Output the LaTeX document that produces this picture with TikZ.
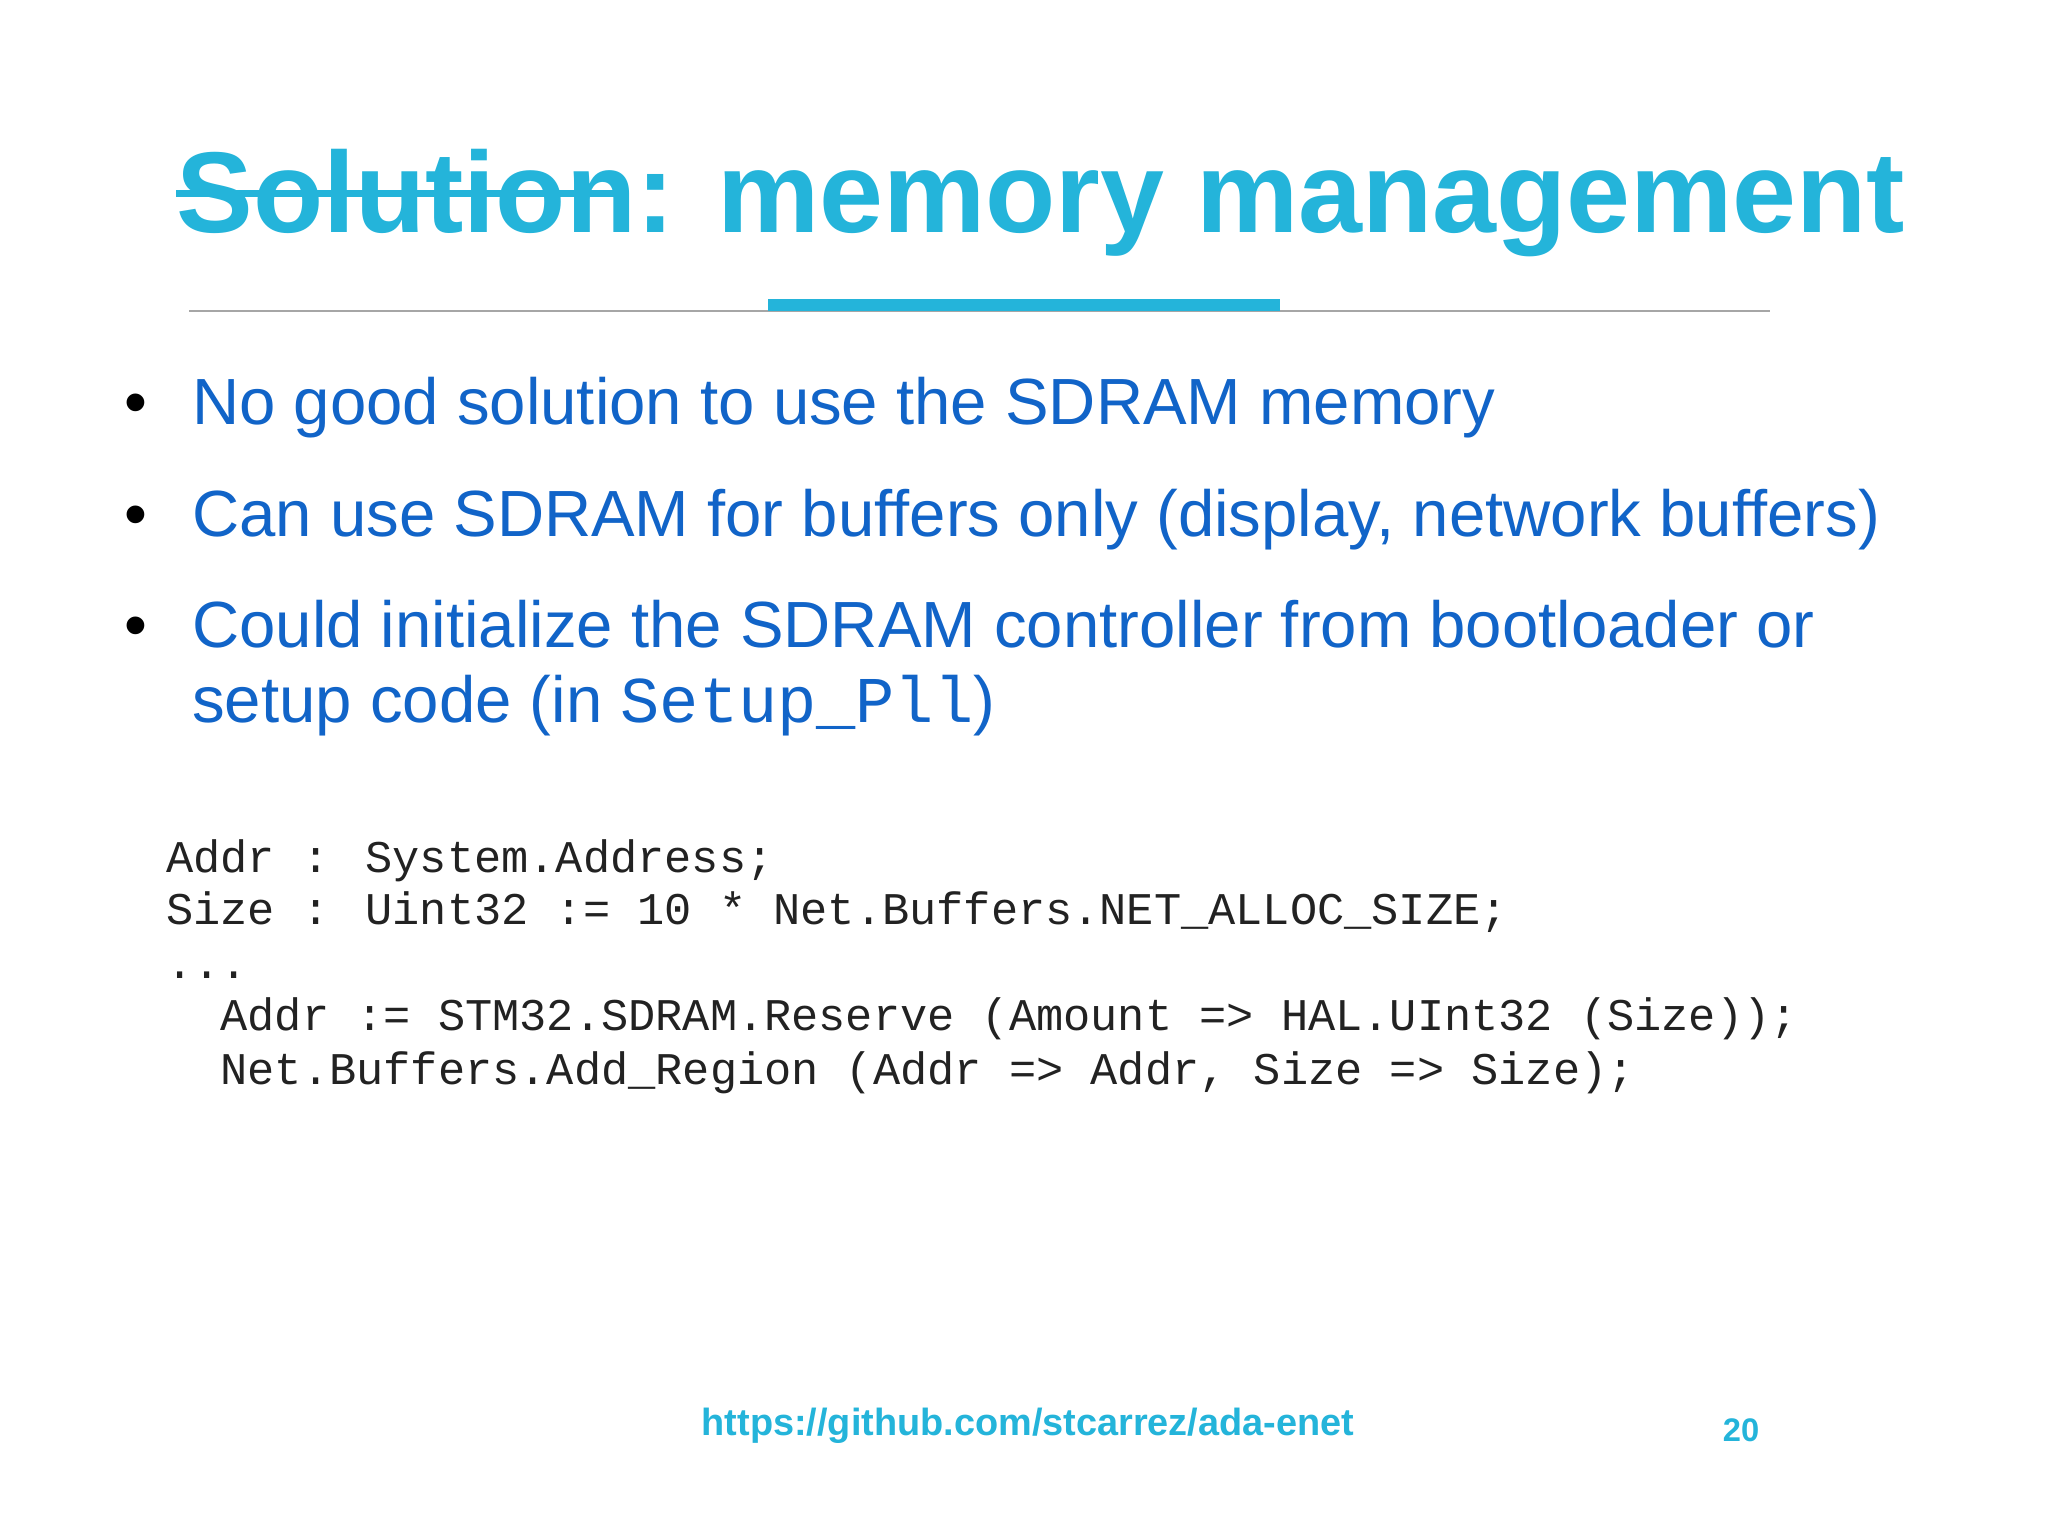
\documentclass[tikz,border=0pt]{standalone}
\usepackage{fontspec}
\setmainfont{Liberation Sans}
\newfontfamily\codefont{Liberation Mono}
\definecolor{tcyan}{HTML}{24B4DA}
\definecolor{tblue}{HTML}{1164C8}
\definecolor{codec}{HTML}{222222}
\tikzset{
  bul/.style={anchor=base west,inner sep=0pt,text=tblue,font=\fontsize{50}{60}\selectfont},
  dot/.style={anchor=base,inner sep=0pt,text=black,font=\fontsize{50}{60}\selectfont},
  code/.style={anchor=base west,inner sep=0pt,text=codec,font=\codefont\fontsize{34.7}{40}\selectfont},
}
\begin{document}
\begin{tikzpicture}[x=1pt,y=-1pt]
\useasboundingbox[fill=white] (0,0) rectangle (1568,1175);
\node[anchor=base west,inner sep=0pt,text=tcyan,font=\bfseries\fontsize{88}{100}\selectfont] (title) at (135,178) {Solution: memory management};
\draw[tcyan,line width=5] (135,148) -- (480,148);
\draw[gray!70,line width=1.5] (145,238) -- (1355,238);
\draw[tcyan,line width=9] (588,233.5) -- (980,233.5);
\node[dot] (d1) at (104,325) {•};
\node[bul] (b1) at (147,325) {No good solution to use the SDRAM memory};
\node[dot] (d2) at (104,411) {•};
\node[bul] (b2) at (147,411) {Can use SDRAM for buffers only (display, network buffers)};
\node[dot] (d3) at (104,496) {•};
\node[bul] (b3) at (147,496) {Could initialize the SDRAM controller from bootloader or};
\node[bul] (b4) at (147,553) {setup code (in {\codefont Setup\_Pll})};
\node[code] (c1) at (127,668) {Addr : System.Address;};
\node[code] (c2) at (127,708) {Size : Uint32 := 10 * Net.Buffers.NET\_ALLOC\_SIZE;};
\node[code] (c3) at (127,749) {...};
\node[code] (c4) at (127,789) {\ \ Addr := STM32.SDRAM.Reserve (Amount => HAL.UInt32 (Size));};
\node[code] (c5) at (127,830) {\ \ Net.Buffers.Add\_Region (Addr => Addr, Size => Size);};
\node[anchor=base west,inner sep=0pt,text=tcyan,font=\bfseries\fontsize{29}{34}\selectfont] (url) at (537,1099) {https://github.com/stcarrez/ada-enet};
\node[anchor=base,inner sep=0pt,text=tcyan,font=\bfseries\fontsize{25}{30}\selectfont] (pg) at (1333,1104) {20};
\end{tikzpicture}
\end{document}
